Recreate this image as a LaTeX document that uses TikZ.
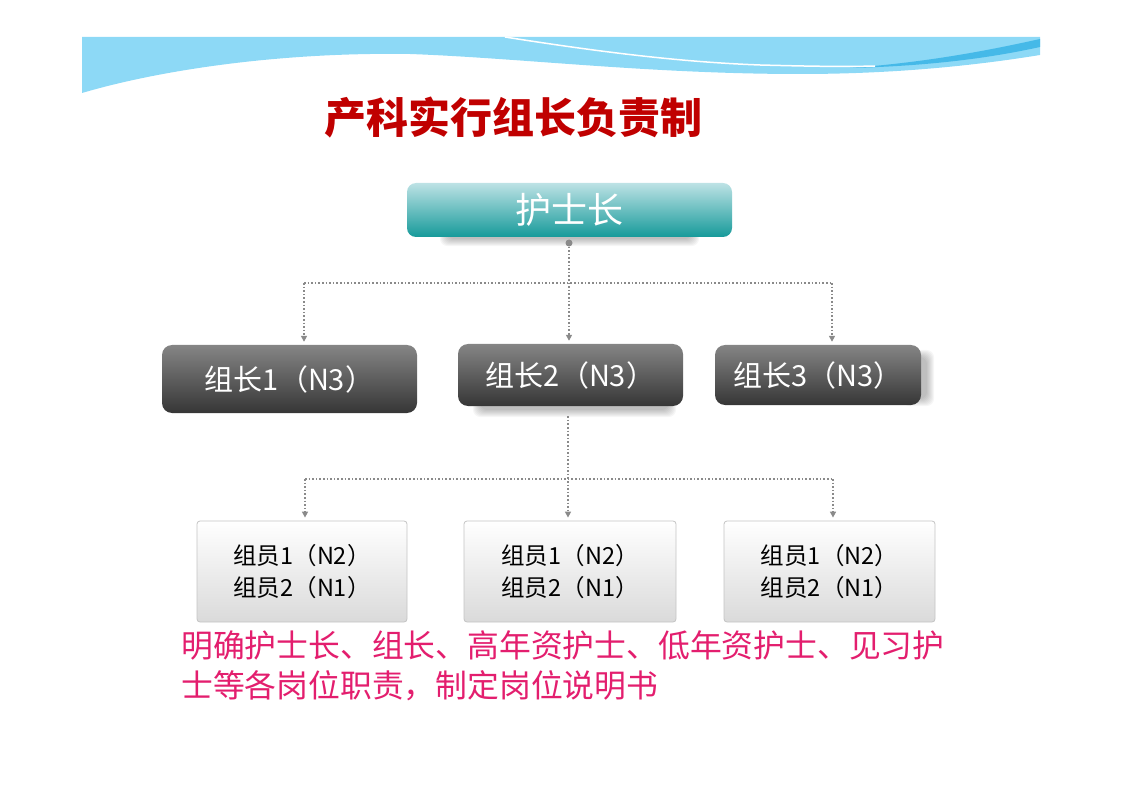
\documentclass[tikz,border=0pt]{standalone}
\usepackage{fontspec}
\setmainfont{Noto Sans CJK SC}
\usetikzlibrary{arrows.meta,backgrounds}
\definecolor{bannerblue}{HTML}{8DD9F6}
\definecolor{bannerdark}{HTML}{45B9E8}
\definecolor{titlered}{HTML}{C00000}
\definecolor{headtop}{HTML}{BDE2E5}
\definecolor{headbot}{HTML}{169A9A}
\definecolor{leadtop}{HTML}{858585}
\definecolor{leadbot}{HTML}{363636}
\definecolor{membbot}{HTML}{DADADA}
\definecolor{membdraw}{HTML}{C4C4C4}
\definecolor{conngray}{HTML}{8A8A8A}
\definecolor{notepink}{HTML}{E31E6E}
\tikzset{
  headbox/.style={rounded corners=9pt, minimum width=325pt, minimum height=54pt, inner sep=0pt,
    top color=headtop, bottom color=headbot, text=white, font=\fontsize{36}{40}\selectfont},
  leadbox/.style={rounded corners=10pt, inner sep=0pt, top color=leadtop, bottom color=leadbot,
    text=white, font=\fontsize{29}{34}\selectfont},
  membbox/.style={rounded corners=3pt, draw=membdraw, line width=0.8pt, inner sep=0pt,
    minimum height=101pt, top color=white, bottom color=membbot, align=center,
    font=\fontsize{23.5}{32}\selectfont},
  conn/.style={draw=conngray, line width=1.6pt, dash pattern=on 1.6pt off 2pt},
  connarrow/.style={conn, -{Triangle[width=6pt,length=6pt]}, shorten >=3pt},
  dotmark/.style={circle, fill=conngray, minimum size=7pt, inner sep=0pt},
  notetext/.style={text=notepink, inner sep=0pt, font=\fontsize{31.8}{40}\selectfont},
  softshadow/.style={black, opacity=0.035, rounded corners=8pt}
}
\begin{document}
\begin{tikzpicture}[x=1pt,y=-1pt]
\useasboundingbox (0,0) rectangle (1122,794);
% banner
\fill[bannerblue] (82,37) -- (1040,37) -- (1040,55)
  .. controls (960,68) and (880,74) .. (800,74)
  .. controls (650,74) and (520,58) .. (410,54)
  .. controls (280,52) and (160,70) .. (82,93) -- cycle;
\fill[bannerdark] (850,68) .. controls (930,62) and (990,50) .. (1040,39)
  -- (1040,47) .. controls (990,58) and (930,66) .. (850,68) -- cycle;
\draw[white, line width=1.5pt] (505,37) .. controls (600,52) and (680,62) .. (760,65)
  .. controls (800,66) and (840,67) .. (875,66);
% title
\node[text=titlered, font=\fontsize{42}{48}\selectfont\bfseries] (title) at (513.5,118) {产科实行组长负责制};
% nodes
\node[headbox] (head) at (569.5,210) {护士长};
\node[leadbox, minimum width=255pt, minimum height=68pt] (L1) at (289.5,379) {组长1（N3）};
\node[leadbox, minimum width=225pt, minimum height=62pt] (L2) at (570.5,375) {组长2（N3）};
\node[leadbox, minimum width=206pt, minimum height=60pt] (L3) at (818,375) {组长3（N3）};
\node[membbox, minimum width=210pt] (M1) at (302,571.5) {组员1（N2）\\组员2（N1）};
\node[membbox, minimum width=212pt] (M2) at (570,571.5) {组员1（N2）\\组员2（N1）};
\node[membbox, minimum width=211pt] (M3) at (829.5,571.5) {组员1（N2）\\组员2（N1）};
% soft shadows
\begin{scope}[on background layer]
\foreach \i in {0,...,7}{
  \fill[softshadow] ([xshift=40pt-\i pt,yshift=12pt+\i pt]head.south west) rectangle ([xshift=-40pt+\i pt,yshift=-2pt-\i pt]head.south east);
  \fill[softshadow] ([xshift=22pt-\i pt,yshift=12pt+\i pt]L2.south west) rectangle ([xshift=-14pt+\i pt,yshift=-4pt-\i pt]L2.south east);
  \fill[softshadow] ([xshift=-12pt-\i pt,yshift=-12pt+\i pt]L3.north east) rectangle ([xshift=6pt+\i pt,yshift=6pt-\i pt]L3.south east);
}
\end{scope}
% connectors top level
\node[dotmark] (dot) at (569,243) {};
\coordinate (b1) at (304,283);
\coordinate (b3) at (832,283);
\draw[conn] (b1) -- (b3);
\draw[connarrow] (dot) -- (dot |- L2.north);
\draw[connarrow] (b1) -- (b1 |- L1.north);
\draw[connarrow] (b3) -- (b3 |- L3.north);
% connectors lower level
\coordinate (c1) at (305,479);
\coordinate (c2) at (568,479);
\coordinate (c3) at (833,479);
\draw[conn] (c1) -- (c3);
\draw[connarrow, shorten <=10pt] (c2 |- L2.south) -- (c2 |- M2.north);
\draw[connarrow] (c1) -- (c1 |- M1.north);
\draw[connarrow] (c3) -- (c3 |- M3.north);
% note
\node[notetext, anchor=base west] (n1) at (181,657) {明确护士长、组长、高年资护士、低年资护士、见习护};
\node[notetext, anchor=base west] (n2) at (181,697) {士等各岗位职责，制定岗位说明书};
\end{tikzpicture}
\end{document}
